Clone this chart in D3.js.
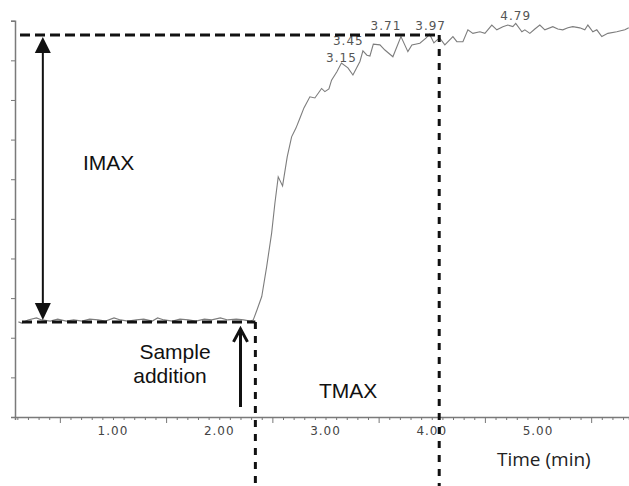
<!DOCTYPE html>
<html lang="en">
<head>
<meta charset="utf-8">
<title>IMAX / TMAX response curve</title>
<script src="https://cdn.jsdelivr.net/npm/d3@7"></script>
<style>
  body { margin: 0; background: #fff; }
  svg { display: block; }
</style>
</head>
<body>
<div id="chart"></div>
<script>
// signal trace (time in min, intensity in arbitrary units)
var times = [0.11, 0.14, 0.20, 0.28, 0.33, 0.41, 0.48, 0.56, 0.63, 0.71, 0.78, 0.86, 0.93, 1.01, 1.07, 1.14,
  1.22, 1.29, 1.37, 1.42, 1.48, 1.56, 1.63, 1.71, 1.78, 1.86, 1.93, 2.01, 2.08, 2.16, 2.23, 2.29, 2.32,
  2.355, 2.40, 2.446, 2.493, 2.524, 2.555, 2.596, 2.64, 2.681, 2.722, 2.759, 2.797, 2.853, 2.90, 2.963,
  2.994, 3.032, 3.057, 3.107, 3.15, 3.211, 3.258, 3.324, 3.352, 3.39, 3.418, 3.45, 3.512, 3.559, 3.634,
  3.71, 3.775, 3.813, 3.888, 3.945, 3.98, 4.02, 4.048, 4.076, 4.123, 4.199, 4.236, 4.293, 4.34, 4.387,
  4.453, 4.50, 4.565, 4.612, 4.669, 4.716, 4.763, 4.79, 4.848, 4.876, 4.923, 4.97, 5.017, 5.064, 5.139,
  5.186, 5.233, 5.281, 5.327, 5.393, 5.44, 5.469, 5.516, 5.553, 5.60, 5.657, 5.741, 5.817, 5.854]
var signal = [24.0, 23.7, 24.5, 25.0, 24.5, 24.2, 24.7, 24.2, 24.5, 24.2, 24.7, 24.5, 24.2, 25.0, 24.5, 24.2,
  24.5, 24.7, 24.2, 25.0, 24.5, 24.2, 24.7, 24.5, 24.2, 24.7, 24.5, 25.0, 24.5, 24.7, 24.5, 24.2, 24.5,
  27.0, 30.4, 37.9, 46.4, 54.0, 60.6, 58.3, 65.7, 70.7, 72.9, 75.4, 78.0, 80.8, 80.5, 82.9,
  82.1, 82.8, 85.0, 87.1, 89.3, 88.1, 86.3, 89.7, 92.4, 91.3, 91.1, 94.1, 93.9, 92.6, 90.9,
  96.0, 92.2, 93.9, 94.3, 95.6, 96.6, 94.4, 95.1, 95.6, 93.9, 96.0, 94.7, 94.7, 97.7, 96.8,
  97.2, 96.8, 98.9, 97.7, 98.5, 98.9, 98.5, 99.3, 97.2, 97.7, 96.8, 97.9, 98.9, 97.7, 98.5,
  97.9, 97.7, 98.2, 98.5, 98.2, 97.7, 98.9, 97.2, 97.7, 96.0, 96.8, 97.2, 97.7, 98.2]

var peakTimes = [3.15, 3.45, 3.71, 3.98, 4.79]
var peakLabels = ["3.15", "3.45", "3.71", "3.97", "4.79"]
var xLabelValues = [1, 2, 3, 4, 5]
var yTickValues = d3.range(0, 101, 10)

var imaxLevel = 96.4
var baseLevel = 24.0
var tmaxTime = 4.07
var sampleTime = 2.34

var w = 629
var h = 486

var svg = d3.select("#chart").append("svg")
  .attr("width", w)
  .attr("height", h)

var xScale = d3.scaleLinear().domain([0.078, 5.856]).range([15, 629])
var yScale = d3.scaleLinear().domain([0, 100]).range([417, 20.7])

// axes
var minorTicks = d3.range(1, 59).map(function(d) { return d / 10 })
var xAxis = d3.axisBottom(xScale)
  .tickValues(minorTicks)
  .tickSize(3)
  .tickFormat("")
var gx = svg.append("g")
  .attr("transform", "translate(0," + yScale(0) + ")")
  .call(xAxis)
gx.select(".domain").attr("stroke", "#7a7a7a").attr("stroke-width", 1.5)
gx.selectAll(".tick line").attr("stroke", "#777")
  .attr("y2", function(d) { return Math.abs(d * 10 % 10 - 5) < 0.01 ? 6 : 3 })

svg.append("g").selectAll("text")
  .data(xLabelValues)
  .enter().append("text")
  .attr("x", function(d) { return xScale(d) })
  .attr("y", 435)
  .attr("text-anchor", "middle")
  .style("font-family", "DejaVu Sans")
  .style("font-size", "12px")
  .style("letter-spacing", "1px")
  .style("fill", "#444")
  .text(function(d) { return d3.format(".2f")(d) })

var yAxis = d3.axisLeft(yScale).tickValues(yTickValues).tickSize(4).tickFormat("")
var gy = svg.append("g").attr("transform", "translate(15,0)").call(yAxis)
gy.select(".domain").attr("stroke", "#7a7a7a").attr("stroke-width", 1.5)
gy.selectAll(".tick line").attr("stroke", "#777")

svg.append("text")
  .attr("x", 497).attr("y", 466)
  .style("font-family", "Open Sans")
  .style("font-size", "19px")
  .style("fill", "#222")
  .text("Time (min)")

// trace
var pts = times.map(function(t, i) { return [t, signal[i]] })
var line = d3.line()
  .x(function(d) { return xScale(d[0]) })
  .y(function(d) { return yScale(d[1]) })
svg.append("path")
  .datum(pts)
  .attr("d", line)
  .attr("fill", "none")
  .attr("stroke", "#7d7d7d")
  .attr("stroke-width", 1.1)

// peak labels
var labelOffsets = [[0, -1], [-25, 1], [-15, -7], [1, -4], [0, -3]]
svg.append("g").selectAll("text")
  .data(peakTimes)
  .enter().append("text")
  .attr("x", function(d, i) { return xScale(d) + labelOffsets[i][0] })
  .attr("y", function(d, i) {
    var k = times.indexOf(d)
    return yScale(signal[k]) + labelOffsets[i][1]
  })
  .attr("text-anchor", "middle")
  .style("font-family", "DejaVu Sans")
  .style("font-size", "12px")
  .style("letter-spacing", "1px")
  .style("fill", "#555")
  .text(function(d, i) { return peakLabels[i] })

// dashed guides
var dash = svg.append("g")
  .attr("stroke", "#111")
  .attr("stroke-width", 3)
  .attr("fill", "none")
dash.append("line")
  .attr("x1", 20).attr("x2", xScale(tmaxTime))
  .attr("y1", yScale(imaxLevel)).attr("y2", yScale(imaxLevel))
  .attr("stroke-dasharray", "10,5")
dash.append("line")
  .attr("x1", 22).attr("x2", xScale(sampleTime))
  .attr("y1", yScale(baseLevel)).attr("y2", yScale(baseLevel))
  .attr("stroke-dasharray", "10,5")
dash.append("line")
  .attr("x1", xScale(tmaxTime)).attr("x2", xScale(tmaxTime))
  .attr("y1", yScale(imaxLevel)).attr("y2", h)
  .attr("stroke-dasharray", "7,7")
dash.append("line")
  .attr("x1", xScale(sampleTime)).attr("x2", xScale(sampleTime))
  .attr("y1", yScale(baseLevel)).attr("y2", h)
  .attr("stroke-dasharray", "7,7")

// IMAX double arrow
var ax = xScale(0.34)
var yTop = yScale(imaxLevel) + 2
var yBot = yScale(baseLevel) - 2
svg.append("line")
  .attr("x1", ax).attr("x2", ax)
  .attr("y1", yTop + 10).attr("y2", yBot - 10)
  .attr("stroke", "#111").attr("stroke-width", 2)
svg.append("path")
  .attr("d", "M" + ax + "," + yTop + "L" + (ax - 8) + "," + (yTop + 16) + "L" + (ax + 8) + "," + (yTop + 16) + "Z")
  .attr("fill", "#111")
svg.append("path")
  .attr("d", "M" + ax + "," + yBot + "L" + (ax - 8) + "," + (yBot - 17) + "L" + (ax + 8) + "," + (yBot - 17) + "Z")
  .attr("fill", "#111")

// sample addition arrow
var sx = xScale(2.20)
var sTip = yScale(baseLevel) + 7
svg.append("line")
  .attr("x1", sx).attr("x2", sx)
  .attr("y1", sTip + 1).attr("y2", 407)
  .attr("stroke", "#111").attr("stroke-width", 3)
svg.append("path")
  .attr("d", "M" + (sx - 7) + "," + (sTip + 13) + "L" + sx + "," + sTip + "L" + (sx + 7) + "," + (sTip + 13))
  .attr("fill", "none").attr("stroke", "#111").attr("stroke-width", 3)

// annotations
var note = svg.append("g")
  .style("font-family", "Liberation Sans, Arial, sans-serif")
  .style("font-size", "21px")
  .style("fill", "#111")
note.append("text").attr("x", 83).attr("y", 170).text("IMAX")
note.append("text").attr("x", 175).attr("y", 359).attr("text-anchor", "middle").text("Sample")
note.append("text").attr("x", 170).attr("y", 383).attr("text-anchor", "middle").text("addition")
note.append("text").attr("x", 319).attr("y", 398).text("TMAX")
</script>
</body>
</html>
